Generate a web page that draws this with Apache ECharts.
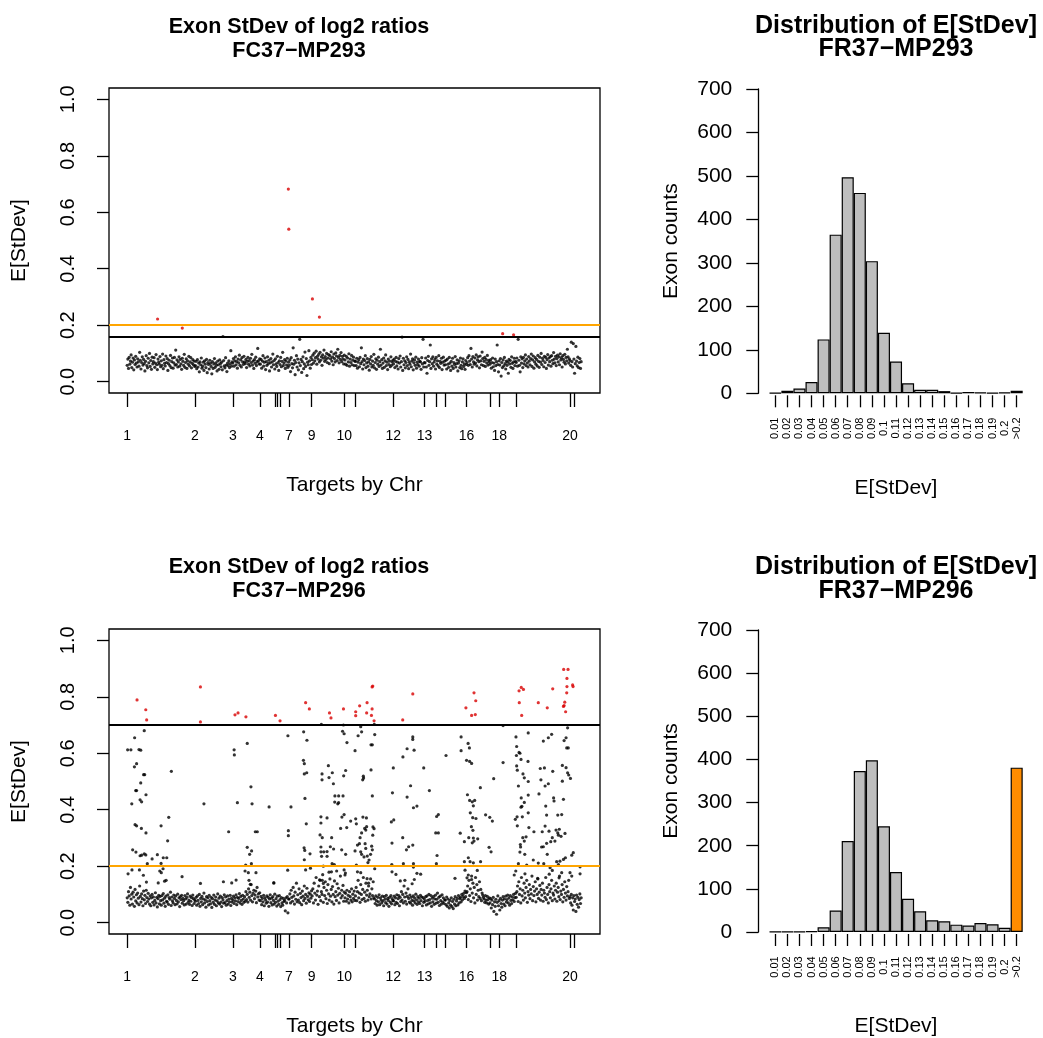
<!DOCTYPE html>
<html><head><meta charset="utf-8">
<script src="https://cdn.jsdelivr.net/npm/echarts@6/dist/echarts.min.js"></script>
<style>html,body{margin:0;padding:0;background:#fff}#c{width:1043px;height:1038px}</style>
</head><body><div id="c"></div>
<script>
const FONT = '"Liberation Sans", Arial, Helvetica, sans-serif';

// ---------- data ----------
const nTargets = 2080;           // exons along the genome
const bandStep = 3;              // band arrays hold every 3rd exon (index 1, 4, 7, ...)
const chrTicks = [1,311,484,608,677,689,703,741,845,994,1043,1218,1361,1416,1456,1553,1660,1703,1778,2026,2046];
const chrTickLabels = ['1','2','3','4','','','','7','9','10','','12','13','','','16','','18','','20',''];
const yTicks = [0, 0.2, 0.4, 0.6, 0.8, 1.0];

// E[StDev] x 1000 for the bulk of exons, sample FC37-MP293
const topBandMilli = [
58,80,47,86,62,73,95,50,69,84,42,77,61,90,66,52,81,70,55,104,
76,45,68,88,59,79,64,38,72,92,57,49,83,67,100,54,75,44,87,63,
71,85,51,66,96,60,43,80,69,62,89,53,74,58,98,46,78,65,56,91,
68,82,40,64,76,57,93,50,71,84,48,67,86,59,112,61,77,52,70,88,
55,79,63,44,83,72,58,97,51,68,81,47,74,62,90,56,70,85,49,65,
78,60,73,54,
57,72,46,78,52,66,35,70,60,84,48,55,69,40,74,62,50,79,32,68,
61,45,76,65,54,28,71,47,63,82,51,67,58,38,73,60,44,77,64,53,
69,42,160,75,56,49,85,59,36,66,57,74,50,64,110,55,70,
66,82,55,74,88,60,71,48,80,67,94,58,77,52,85,70,61,90,69,64,
79,50,72,86,62,75,56,83,68,97,59,73,47,78,65,87,57,71,118,74,
63,81,
62,79,48,73,92,55,69,84,43,71,58,88,64,76,38,67,82,52,70,98,
60,75,45,81,63,54,90,68,40,74,61,86,53,72,104,57,66,78,47,73,
59,83,51,69,
58,77,36,85,64,49,120,62,76,25,68,92,52,80,42,67,150,57,79,33,
71,88,46,63,105,54,82,22,69,60,110,74,48,86,61,
78,94,66,101,74,85,108,62,90,80,97,70,104,76,88,58,95,83,112,72,
89,79,100,68,84,96,64,92,81,106,73,87,60,98,82,70,102,91,75,115,
86,67,93,79,103,71,90,80,63,94,
77,62,90,58,84,70,99,55,80,68,93,60,76,87,57,73,
72,57,83,48,69,78,53,86,64,120,71,45,80,60,75,92,50,67,82,55,
70,41,79,63,89,52,73,58,97,49,68,81,44,76,62,87,54,71,115,59,
78,47,66,84,51,74,95,57,69,43,80,61,73,53,88,58,70,76,
63,80,50,72,86,56,69,45,82,66,91,52,71,158,40,83,60,74,49,68,
88,57,79,46,70,62,98,53,73,81,42,67,77,58,87,48,69,61,80,55,
72,70,44,85,63,150,52,68,
67,84,52,30,75,90,58,71,130,47,81,64,88,55,70,79,45,86,62,74,
56,92,50,72,65,83,43,69,87,59,73,
60,76,45,80,62,51,86,66,40,72,55,83,47,68,61,89,52,64,77,38,
66,74,50,84,58,46,70,81,54,63,44,75,61,
68,85,58,92,73,61,118,80,52,89,70,62,84,66,95,56,77,88,71,49,
91,74,60,105,82,57,72,86,54,79,67,93,59,76,70,
62,78,48,68,84,53,66,40,80,57,71,130,61,35,74,59,82,20,68,50,
77,56,86,64,45,73,58,69,30,79,63,75,51,88,65,47,70,83,57,72,
68,84,55,150,76,58,35,88,66,81,50,86,63,74,95,57,80,67,52,89,
73,60,82,98,54,77,91,48,70,85,62,79,56,93,72,51,87,69,100,61,
83,75,53,90,68,86,47,78,96,59,84,71,89,55,92,76,64,103,80,67,
90,57,82,94,70,88,60,99,77,85,52,92,79,69,97,63,86,74,115,88,
66,81,
75,58,140,71,52,135,80,30,64,125,73,56,87,50,68,82,47,71
];
// isolated exons off the band, sample FC37-MP293: [exon index, E[StDev]]
const topExtra = [[140,0.222],[253,0.190],[738,0.682],[740,0.540],[848,0.293],[880,0.229],[1718,0.170],[1768,0.166]];

// E[StDev] x 1000 for the bulk of exons, sample FC37-MP296
const botBandMilli = [
88,72,110,95,62,125,84,101,66,108,91,58,118,77,99,70,105,87,64,130,
93,73,102,85,60,112,81,97,68,115,89,75,104,
84,66,95,60,88,100,72,91,63,79,106,70,90,56,85,97,67,93,78,62,
96,81,103,69,87,58,94,76,73,99,65,89,83,108,61,91,77,70,98,86,
64,95,79,67,101,74,88,57,92,82,97,69,86,78,63,96,84,66,90,102,
72,80,65,94,76,89,61,98,85,68,81,
76,90,62,95,79,68,100,58,86,74,93,64,84,105,70,81,55,92,75,88,
63,97,78,67,90,54,85,72,98,65,80,91,60,77,102,70,87,66,94,73,
57,89,81,69,99,71,91,62,78,95,66,84,74,97,61,86,73,
80,94,68,88,77,99,64,90,75,86,103,70,93,79,65,97,84,72,92,76,
110,82,100,73,120,90,108,80,135,96,74,104,115,85,98,112,71,125,91,102,
80,106,
78,93,64,86,74,97,60,88,80,69,95,73,90,58,84,99,71,87,63,92,
79,66,101,72,85,59,94,76,65,96,82,57,89,70,62,86,75,79,42,88,
70,92,35,84,
84,102,70,115,90,76,125,95,66,108,83,140,74,99,80,120,71,104,89,64,
112,94,78,130,86,100,69,122,93,81,106,75,101,87,113,
95,120,70,140,105,80,160,98,112,65,130,92,150,78,110,100,170,72,125,96,
145,85,115,68,135,102,80,155,94,118,74,128,100,66,148,92,110,79,138,98,
122,70,104,165,88,115,96,132,76,108,
88,104,76,115,84,97,70,110,92,80,120,74,101,86,112,79,
95,125,78,110,150,88,105,72,135,100,82,118,160,86,108,76,140,98,115,80,
130,92,102,155,84,120,96,145,88,
84,68,95,78,62,90,74,99,64,88,80,70,94,77,60,92,83,71,97,66,
86,79,58,90,73,96,67,85,78,
78,94,64,88,72,99,68,85,96,60,90,75,110,80,100,70,130,91,76,105,
66,93,120,86,73,98,69,90,79,62,95,77,88,70,101,81,65,92,74,87,
68,97,78,91,60,89,72,84,
76,92,63,95,79,67,100,82,70,96,58,87,74,93,65,84,98,69,83,105,
72,90,61,94,78,66,99,73,88,68,81,
80,64,91,58,84,70,52,79,62,88,57,75,50,83,66,92,60,77,86,63,
96,70,85,90,74,100,81,93,104,86,112,92,106,
110,130,82,150,96,120,75,165,105,140,88,125,70,160,100,135,80,115,92,145,
86,118,78,105,98,90,84,72,96,80,70,93,82,66,88,
70,85,52,80,64,90,40,74,58,83,30,72,95,60,78,45,86,68,55,80,
92,66,84,60,94,73,82,98,70,88,62,96,79,68,91,81,100,75,89,104,
90,110,130,75,145,100,120,70,160,95,115,80,140,105,88,125,150,72,110,98,
135,85,118,102,165,78,128,96,112,145,74,120,100,155,86,108,132,80,118,98,
140,76,115,105,90,160,82,125,100,70,135,110,88,120,150,78,105,98,130,84,
115,140,76,108,125,92,165,82,112,100,135,74,118,90,145,105,80,128,95,110,
150,86,
92,70,100,62,88,45,96,75,84,40,98,65,90,55,82,102,68,88
];
// exons off the band, sample FC37-MP296: [exon index, E[StDev]]
const botExtra = [
[46,0.789],[86,0.754],[90,0.718],[336,0.835],[336,0.711],[494,0.736],[508,0.743],[544,0.729],[679,0.734],[700,0.715],
[817,0.779],[834,0.757],[926,0.743],[933,0.725],[990,0.757],[1046,0.747],[1046,0.733],[1064,0.768],[1098,0.779],[1096,0.743],
[1121,0.757],[1118,0.734],[1121,0.835],[1124,0.838],[1130,0.715],[1307,0.810],[1261,0.718],[1550,0.761],[1587,0.814],[1595,0.786],
[1576,0.734],[1593,0.737],[1793,0.821],[1803,0.833],[1813,0.826],[1794,0.779],[1805,0.734],[1881,0.779],[1922,0.761],[1947,0.828],
[1997,0.897],[2017,0.897],[2012,0.865],[2012,0.836],[2011,0.814],[2038,0.842],[2040,0.836],[2002,0.781],[1999,0.769],[1996,0.766],[2006,0.747],
[3,0.612],[18,0.612],[35,0.655],[79,0.680],[55,0.613],[63,0.611],[34,0.552],[44,0.563],[76,0.524],[81,0.524],
[63,0.495],[40,0.468],[44,0.468],[60,0.435],[67,0.428],[87,0.453],[22,0.421],[37,0.347],[44,0.343],[66,0.334],
[87,0.318],[26,0.258],[41,0.250],[60,0.237],[67,0.239],[79,0.244],[86,0.240],[93,0.209],[115,0.226],[139,0.241],
[156,0.210],[166,0.230],[182,0.230],[23,0.187],[57,0.187],[5,0.173],[75,0.168],[89,0.144],[143,0.141],[150,0.183],
[157,0.177],[165,0.191],[172,0.147],[179,0.150],[156,0.343],[191,0.373],[186,0.290],[203,0.536],[252,0.163],[336,0.139],
[352,0.421],[441,0.145],[479,0.141],[499,0.151],[490,0.612],[491,0.594],[465,0.322],[505,0.425],[550,0.635],[567,0.481],
[572,0.421],[587,0.322],[596,0.322],[550,0.267],[561,0.242],[570,0.254],[569,0.209],[543,0.204],[540,0.183],[555,0.177],
[590,0.177],[558,0.150],[564,0.136],[650,0.410],[671,0.141],
[736,0.662],[750,0.410],[738,0.326],[738,0.308],[735,0.186],[672,0.141],[808,0.676],[823,0.646],[807,0.575],[811,0.563],
[811,0.527],[822,0.531],[814,0.440],[820,0.350],[810,0.265],[813,0.256],[837,0.244],[811,0.223],[817,0.187],[839,0.193],
[889,0.702],[892,0.527],[892,0.506],[921,0.556],[924,0.514],[939,0.531],[944,0.492],[951,0.449],[968,0.449],[950,0.427],
[964,0.421],[968,0.425],[887,0.375],[887,0.353],[915,0.371],[883,0.311],[893,0.301],[936,0.301],[887,0.268],[900,0.251],
[887,0.251],[915,0.252],[930,0.269],[945,0.261],[890,0.235],[915,0.235],[938,0.209],[948,0.206],[898,0.200],[924,0.179],
[935,0.180],[959,0.183],[881,0.152],[893,0.150],[898,0.139],[990,0.700],[986,0.678],[993,0.669],[1006,0.638],[1000,0.539],
[991,0.520],[988,0.449],[983,0.374],[993,0.383],[977,0.334],[1005,0.337],[982,0.258],[1000,0.242],[993,0.187],[999,0.176],
[997,0.169],[1023,0.360],[1043,0.609],[1057,0.662],[1073,0.676],[1069,0.694],[1046,0.368],[1049,0.350],[1079,0.374],[1095,0.371],
[1073,0.318],[1066,0.301],[1087,0.334],[1096,0.340],[1092,0.328],[1054,0.275],[1063,0.280],[1089,0.280],[1043,0.254],[1069,0.251],
[1092,0.263],[1073,0.242],[1084,0.233],[1099,0.236],[1114,0.242],[1107,0.222],[1102,0.213],[1049,0.204],[1054,0.180],[1069,0.177],
[1098,0.156],[1105,0.140],[1081,0.519],[1078,0.506],[1082,0.512],[1116,0.541],[1116,0.630],[1122,0.630],[1133,0.666],[1131,0.702],
[1122,0.449],[1125,0.339],[1130,0.333],[1124,0.310],[1119,0.271],[1122,0.258],[1133,0.191],[1214,0.460],[1218,0.548],[1209,0.357],
[1220,0.364],[1212,0.282],[1211,0.206],[1212,0.180],[1230,0.171],[1250,0.148],[1262,0.587],[1281,0.616],[1261,0.301],[1264,0.209],
[1271,0.150],[1281,0.445],[1297,0.485],[1307,0.658],[1307,0.649],[1313,0.611],[1310,0.407],[1326,0.413],[1278,0.258],[1288,0.269],
[1307,0.275],[1310,0.209],[1310,0.197],[1326,0.175],[1343,0.172],[1357,0.548],[1383,0.468],[1416,0.376],[1424,0.383],[1412,0.318],
[1424,0.318],[1418,0.238],[1415,0.209],[1304,0.138],[1314,0.153],
[1459,0.592],[1500,0.157],[1524,0.317],[1528,0.658],[1528,0.609],[1560,0.635],[1566,0.619],[1553,0.575],[1567,0.571],[1576,0.564],
[1557,0.453],[1567,0.433],[1579,0.428],[1590,0.433],[1584,0.414],[1570,0.389],[1581,0.372],[1596,0.369],[1575,0.340],[1582,0.327],
[1563,0.301],[1584,0.300],[1604,0.297],[1543,0.287],[1579,0.283],[1587,0.289],[1561,0.230],[1569,0.216],[1584,0.212],[1617,0.216],
[1543,0.216],[1546,0.186],[1561,0.169],[1576,0.153],[1555,0.159],[1602,0.185],[1616,0.478],[1640,0.382],[1659,0.373],[1671,0.360],
[1677,0.510],[1656,0.267],[1665,0.251],[1720,0.698],[1720,0.567],[1779,0.658],[1782,0.624],[1781,0.592],[1793,0.603],[1797,0.600],
[1782,0.555],[1785,0.540],[1802,0.578],[1835,0.672],[1834,0.571],[1811,0.527],[1817,0.513],[1790,0.484],[1835,0.500],[1803,0.442],
[1806,0.412],[1802,0.409],[1817,0.426],[1835,0.452],[1784,0.375],[1776,0.366],[1785,0.343],[1808,0.375],[1835,0.389],[1810,0.301],
[1825,0.304],[1838,0.337],[1799,0.277],[1800,0.268],[1817,0.289],[1797,0.250],[1819,0.242],[1790,0.209],[1828,0.204],[1820,0.173],
[1778,0.183],[1771,0.169],[1861,0.322],[1858,0.222],[1881,0.211],[1878,0.157],[1890,0.546],[1909,0.548],[1893,0.506],[1912,0.484],
[1927,0.492],[1884,0.456],[1904,0.643],[1927,0.655],[1942,0.667],[1947,0.536],[1951,0.442],[1953,0.431],[1919,0.381],[1915,0.413],
[1899,0.322],[1912,0.342],[1930,0.324],[1896,0.268],[1904,0.269],[1919,0.281],[1938,0.287],[1945,0.301],[1922,0.242],[1906,0.209],
[1935,0.195],[1945,0.185],[1931,0.172],[1962,0.328],[1970,0.318],[1977,0.331],[1957,0.289],[1973,0.310],[1985,0.306],[1970,0.381],
[1988,0.383],[1996,0.437],[1991,0.501],[1991,0.557],[1999,0.645],[2008,0.655],[2015,0.690],[2011,0.619],[2018,0.619],[2008,0.549],
[2015,0.531],[2020,0.523],[2028,0.511],[2003,0.316],[1965,0.216],[1973,0.206],[1980,0.218],[1996,0.224],[2005,0.230],[2034,0.239],
[2041,0.248],[2026,0.177],[2034,0.165],[2072,0.198],[2072,0.173],[1988,0.177],[1976,0.159]
];

const topCut = 0.164;   // sample-specific cutoff (black line)
const botCut = 0.704;
const fixedCut = 0.2;   // fixed cutoff (orange line)

const histLabels = ['0.01','0.02','0.03','0.04','0.05','0.06','0.07','0.08','0.09','0.1','0.11','0.12','0.13','0.14','0.15','0.16','0.17','0.18','0.19','0.2','>0.2'];
const topHist = [1,6,11,26,124,365,497,461,304,139,73,23,8,8,5,1,3,2,1,2,6];
const botHist = [1,1,1,2,11,50,211,373,398,245,139,77,48,27,25,17,15,21,18,10,381];

// ---------- chart ----------
const BLACK = '#000000', RED = '#d80000', ORANGE_LINE = '#ffa500', ORANGE_BAR = '#ff8c00', GRAY = '#bebebe';

function points(band, extra) {
  return band.map((m, k) => [1 + k * bandStep, m / 1000]).concat(extra);
}
const topPts = points(topBandMilli, topExtra);
const botPts = points(botBandMilli, botExtra);

const xMin = 1 - 0.04 * (nTargets - 1), xMax = nTargets + 0.04 * (nTargets - 1);
const txt = (size, bold) => ({fontFamily: FONT, fontSize: size, color: '#000', fontWeight: bold ? 'bold' : 'normal'});

function scatterX(gi) {
  return {
    type: 'value', gridIndex: gi, min: xMin, max: xMax,
    axisLine: {show: false, onZero: false}, splitLine: {show: false},
    axisTick: {show: true, length: 14, customValues: chrTicks, lineStyle: {color: BLACK, width: 1.3}},
    axisLabel: {show: true, customValues: chrTicks.filter((t, i) => chrTickLabels[i] !== ''),
      formatter: v => chrTickLabels[chrTicks.indexOf(v)], margin: 36, ...txt(14)},
    name: 'Targets by Chr', nameLocation: 'middle', nameGap: 82, nameTextStyle: txt(21)
  };
}
function scatterY(gi) {
  return {
    type: 'value', gridIndex: gi, min: -0.04, max: 1.04,
    axisLine: {show: false, onZero: false}, splitLine: {show: false},
    axisTick: {show: true, length: 12, customValues: yTicks, lineStyle: {color: BLACK, width: 1.3}},
    axisLabel: {show: true, customValues: yTicks, rotate: 90, formatter: v => v.toFixed(1), margin: 31, ...txt(20)},
    name: 'E[StDev]', nameLocation: 'middle', nameGap: 79, nameRotate: 90, nameTextStyle: txt(21)
  };
}
function histX(gi) {
  return {
    type: 'category', gridIndex: gi, data: histLabels, offset: 2,
    axisLine: {show: false, onZero: false},
    axisTick: {show: true, alignWithLabel: true, length: 12, lineStyle: {color: BLACK, width: 1.3}},
    axisLabel: {interval: 0, rotate: 90, align: 'center', verticalAlign: 'middle', margin: 33, ...txt(11)},
    name: 'E[StDev]', nameLocation: 'middle', nameGap: 82, nameTextStyle: txt(21)
  };
}
function histY(gi) {
  return {
    type: 'value', gridIndex: gi, min: 0, max: 700, interval: 100, offset: 11,
    axisLine: {show: true, onZero: false, lineStyle: {color: BLACK, width: 1.3}}, splitLine: {show: false},
    axisTick: {show: true, length: 12, lineStyle: {color: BLACK, width: 1.3}},
    axisLabel: {margin: 26, ...txt(21)},
    name: 'Exon counts', nameLocation: 'middle', nameGap: 77, nameRotate: 90, nameTextStyle: txt(21)
  };
}
function scatterSeries(pts, cut, xi) {
  const base = {type: 'scatter', xAxisIndex: xi, yAxisIndex: xi, symbol: 'circle', symbolSize: 3.2, silent: true};
  return [
    {...base, data: pts.filter(p => p[1] <= cut), itemStyle: {color: BLACK},
      markLine: {silent: true, symbol: ['none', 'none'], label: {show: false},
        data: [{yAxis: cut, lineStyle: {color: BLACK, width: 1.8, type: 'solid'}},
               {yAxis: fixedCut, lineStyle: {color: ORANGE_LINE, width: 1.8, type: 'solid'}}]}},
    {...base, data: pts.filter(p => p[1] > cut), itemStyle: {color: RED}}
  ];
}
function histSeries(vals, xi) {
  return {
    type: 'bar', xAxisIndex: xi, yAxisIndex: xi, barCategoryGap: '0%', silent: true,
    data: vals.map((v, i) => ({value: v, itemStyle: {color: histLabels[i] === '>0.2' ? ORANGE_BAR : GRAY}})),
    itemStyle: {borderColor: BLACK, borderWidth: 1.2}
  };
}
const boxGrid = {show: true, borderColor: BLACK, borderWidth: 1.3, backgroundColor: 'transparent'};
const titleBase = {textAlign: 'center', padding: 0};

const chart = echarts.init(document.getElementById('c'), null, {renderer: 'canvas'});
chart.setOption({
  animation: false,
  backgroundColor: '#ffffff',
  title: [
    {...titleBase, text: 'Exon StDev of log2 ratios\nFC37\u2212MP293', left: 299, top: 15, textStyle: {...txt(21.5, true), lineHeight: 24}},
    {...titleBase, text: 'Distribution of E[StDev]\nFR37\u2212MP293', left: 896, top: 15, textStyle: {...txt(25, true), lineHeight: 23}},
    {...titleBase, text: 'Exon StDev of log2 ratios\nFC37\u2212MP296', left: 299, top: 555, textStyle: {...txt(21.5, true), lineHeight: 24}},
    {...titleBase, text: 'Distribution of E[StDev]\nFR37\u2212MP296', left: 896, top: 555, textStyle: {...txt(25, true), lineHeight: 24}}
  ],
  grid: [
    {left: 109, top: 88, width: 491, height: 305, ...boxGrid},
    {left: 769.3, top: 89, width: 253.4, height: 304.3},
    {left: 109, top: 629, width: 491, height: 305, ...boxGrid},
    {left: 769.3, top: 630, width: 253.4, height: 305}
  ],
  xAxis: [scatterX(0), histX(1), scatterX(2), histX(3)],
  yAxis: [scatterY(0), histY(1), scatterY(2), histY(3)],
  series: [
    ...scatterSeries(topPts, topCut, 0),
    histSeries(topHist, 1),
    ...scatterSeries(botPts, botCut, 2),
    histSeries(botHist, 3)
  ]
});
</script></body></html>
